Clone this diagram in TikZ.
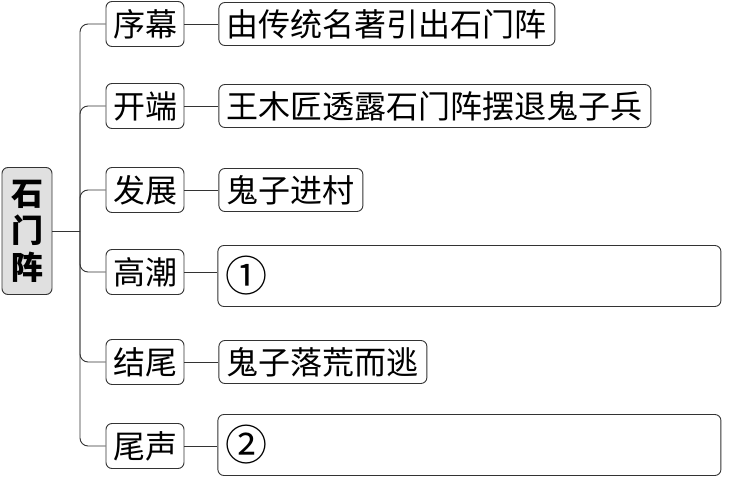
\documentclass[tikz,border=0pt]{standalone}
\usepackage{fontspec}
\newfontfamily\cjk{Noto Sans CJK SC}
\usepackage{tikz}
\usetikzlibrary{positioning}

\newcommand{\circnum}[1]{{\fontsize{42}{42}\selectfont #1}}

\begin{document}
\begin{tikzpicture}[x=1pt, y=-1pt,
  font=\cjk\fontsize{32}{36}\selectfont,
  line width=0.9pt, draw=black!80,
  stage/.style={draw=black!80, rounded corners=6pt, minimum width=78pt, minimum height=45pt, inner xsep=7pt, inner ysep=0pt},
  item/.style={draw=black!80, rounded corners=6pt, minimum height=43pt, inner xsep=8pt, inner ysep=0pt},
  blank/.style={item, minimum height=61pt, text width=487pt, align=left},
  link/.style={draw=black!80, rounded corners=8pt}]
\useasboundingbox (0,0) rectangle (735,484);
% root
\node[draw=black!80, fill=black!12, rounded corners=6pt, minimum width=50pt, minimum height=127pt,
  inner sep=0pt, align=center, font=\cjk\bfseries\fontsize{32}{37}\selectfont] (shimen) at (27,231) {石\\门\\阵};
\coordinate (trunk) at (80,231);
% stages
\node[stage] (s1) at (145,24) {序幕};
\node[stage] (s2) at (145,106) {开端};
\node[stage] (s3) at (145,190) {发展};
\node[stage] (s4) at (145,272) {高潮};
\node[stage] (s5) at (145,362) {结尾};
\node[stage] (s6) at (145,446) {尾声};
% contents
\node[item, right=34pt of s1] (c1) {由传统名著引出石门阵};
\node[item, right=34pt of s2] (c2) {王木匠透露石门阵摆退鬼子兵};
\node[item, right=34pt of s3] (c3) {鬼子进村};
\node[blank, right=33pt of s4, yshift=-4pt] (c4) {\circnum{①}};
\node[item, right=34pt of s5] (c5) {鬼子落荒而逃};
\node[blank, right=33pt of s6, yshift=1pt] (c6) {\circnum{②}};
% connectors
\draw (shimen.east) -- (trunk);
\foreach \i in {1,...,6} {
  \draw[link] (s\i.west) -| (trunk);
  \draw (s\i.east) -- (s\i.east -| c\i.west);
}
\end{tikzpicture}
\end{document}
